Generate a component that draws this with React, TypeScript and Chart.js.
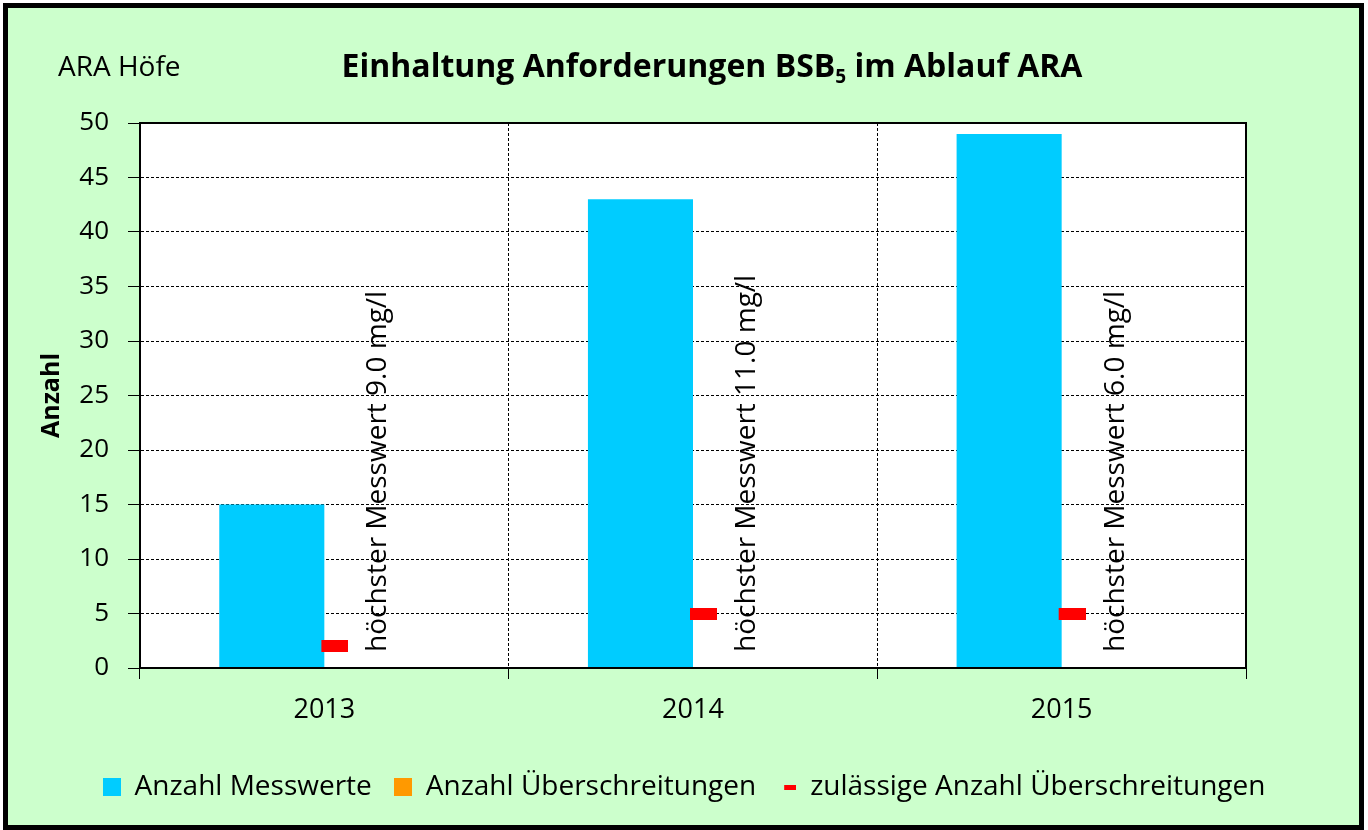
import React, { useEffect, useRef } from "react";
import { Chart, registerables } from "chart.js";

Chart.register(...registerables);

const years = ["2013", "2014", "2015"];
const anzahlMesswerte = [15, 43, 49];
const anzahlUeberschreitungen = [0, 0, 0];
const zulaessigeUeberschreitungen = [2, 5, 5];
const hoechsterMesswert = ["9.0", "11.0", "6.0"];
const seriesLabels = ["Anzahl Messwerte", "Anzahl Überschreitungen", "zulässige Anzahl Überschreitungen"];
const seriesColors = ["#00CCFF", "#FF9900", "#FF0000"];
const yMin = 0;
const yMax = 50;
const yStep = 5;

const FONT = "'Open Sans', sans-serif";

function makeRect(w: number, h: number, color: string, totalW?: number, offX?: number) {
  const c = document.createElement("canvas");
  const tw = totalW ?? w;
  c.width = tw;
  c.height = h;
  const ctx = c.getContext("2d")!;
  ctx.fillStyle = color;
  ctx.fillRect(offX ?? 0, 0, w, h);
  return c;
}

export default function App() {
  const ref = useRef<HTMLCanvasElement>(null);

  useEffect(() => {
    const canvas = ref.current!;
    const dashPoint = makeRect(27, 12, seriesColors[2], 48, 21);
    const legendImgs = [
      makeRect(18, 18, seriesColors[0]),
      makeRect(18, 18, seriesColors[1]),
      makeRect(12, 5, seriesColors[2], 18, 6),
    ];

    const decor = {
      id: "decor",
      beforeDraw(chart: any) {
        const { ctx, chartArea: a } = chart;
        ctx.save();
        ctx.fillStyle = "#FFFFFF";
        ctx.fillRect(a.left, a.top, a.right - a.left, a.bottom - a.top);
        ctx.restore();
      },
      afterDatasetsDraw(chart: any) {
        const { ctx, chartArea: a } = chart;
        const x = chart.scales.x;
        const y = chart.scales.y;
        ctx.save();
        ctx.fillStyle = "#000";
        ctx.font = `28px ${FONT}`;
        hoechsterMesswert.forEach((v, i) => {
          const px = x.getPixelForValue(i) + 54;
          const py = y.getPixelForValue(0) - 16;
          ctx.save();
          ctx.translate(px, py);
          ctx.rotate(-Math.PI / 2);
          ctx.textAlign = "left";
          ctx.textBaseline = "middle";
          ctx.fillText(`höchster Messwert ${v} mg/l`, 0, 0);
          ctx.restore();
        });
        ctx.strokeStyle = "#000";
        ctx.lineWidth = 2;
        ctx.strokeRect(a.left, a.top, a.right - a.left, a.bottom - a.top);
        ctx.restore();
      },
      afterDraw(chart: any) {
        const { ctx } = chart;
        ctx.save();
        ctx.fillStyle = "#000";
        ctx.textBaseline = "middle";
        ctx.font = `28px ${FONT}`;
        ctx.textAlign = "left";
        ctx.fillText("ARA Höfe", 58, 68);
        const p1 = "Einhaltung Anforderungen BSB";
        const sub = "5";
        const p2 = " im Ablauf ARA";
        const big = `bold 32px ${FONT}`;
        const small = `bold 19px ${FONT}`;
        ctx.font = big;
        const w1 = ctx.measureText(p1).width;
        const w3 = ctx.measureText(p2).width;
        ctx.font = small;
        const w2 = ctx.measureText(sub).width;
        const total = w1 + w2 + w3;
        let cx = 712 - total / 2;
        const cy = 68;
        ctx.font = big;
        ctx.fillText(p1, cx, cy);
        cx += w1;
        ctx.font = small;
        ctx.fillText(sub, cx, cy + 10);
        cx += w2;
        ctx.font = big;
        ctx.fillText(p2, cx, cy);
        ctx.restore();
      },
    };

    const chart = new Chart(canvas, {
      type: "bar",
      data: {
        labels: years,
        datasets: [
          {
            type: "bar",
            label: seriesLabels[0],
            data: anzahlMesswerte,
            backgroundColor: seriesColors[0],
            borderWidth: 0,
            categoryPercentage: 0.57,
            barPercentage: 1.0,
            order: 2,
          },
          {
            type: "bar",
            label: seriesLabels[1],
            data: anzahlUeberschreitungen,
            backgroundColor: seriesColors[1],
            borderWidth: 0,
            categoryPercentage: 0.57,
            barPercentage: 1.0,
            order: 2,
          },
          {
            type: "line",
            label: seriesLabels[2],
            data: zulaessigeUeberschreitungen,
            showLine: false,
            pointStyle: dashPoint as any,
            pointRadius: 12,
            borderColor: seriesColors[2],
            backgroundColor: seriesColors[2],
            order: 0,
          } as any,
        ],
      },
      options: {
        responsive: false,
        animation: false,
        layout: { padding: { left: 4, right: 4, top: 123, bottom: 19 } },
        plugins: {
          title: { display: false },
          tooltip: { enabled: false },
          legend: {
            display: true,
            position: "bottom",
            labels: {
              usePointStyle: true,
              boxWidth: 18,
              boxHeight: 18,
              padding: 22,
              color: "#000",
              font: { family: FONT, size: 28 },
              generateLabels: (ch: any) =>
                ch.data.datasets.map((ds: any, i: number) => ({
                  text: ds.label,
                  pointStyle: legendImgs[i],
                  fillStyle: seriesColors[i],
                  strokeStyle: "transparent",
                  lineWidth: 0,
                  hidden: false,
                  datasetIndex: i,
                  fontColor: "#000",
                })),
            },
          },
        },
        scales: {
          x: {
            offset: true,
            grid: {
              offset: true,
              color: "#000",
              lineWidth: 1,
              tickLength: 11,
              tickColor: "#000",
              tickBorderDash: [],
            },
            border: { display: true, color: "#000", width: 2, dash: [3, 2] },
            ticks: { color: "#000", font: { family: FONT, size: 27 }, padding: 15 },
            afterFit: (s: any) => {
              s.height = 83;
            },
          },
          y: {
            min: yMin,
            max: yMax,
            ticks: { stepSize: yStep, color: "#000", font: { family: FONT, size: 26 }, padding: 19 },
            grid: {
              color: "#000",
              lineWidth: 1,
              tickLength: 12,
              tickColor: "#000",
              tickBorderDash: [],
            },
            border: { display: true, color: "#000", width: 2, dash: [3, 2] },
            title: {
              display: true,
              text: "Anzahl",
              color: "#000",
              font: { family: FONT, size: 25, weight: "bold" },
              padding: { top: 33, bottom: 0 },
            },
            afterFit: (s: any) => {
              s.width = 136;
            },
          },
          yR: {
            position: "right",
            display: true,
            grid: { display: false, drawTicks: false },
            border: { display: false },
            ticks: { display: false },
            afterFit: (s: any) => {
              s.width = 118;
            },
          },
        },
      } as any,
      plugins: [decor],
    });

    return () => chart.destroy();
  }, []);

  return (
    <div style={{ position: "fixed", left: 0, top: 0, width: 1368, height: 830, background: "#FFFFFF" }}>
      <div
        style={{
          position: "absolute",
          left: 3,
          top: 3,
          width: 1361,
          height: 827,
          boxSizing: "border-box",
          border: "5px solid #000",
          background: "#CCFFCC",
        }}
      />
      <canvas
        ref={ref}
        width={1368}
        height={830}
        style={{ position: "absolute", left: 0, top: 0, width: 1368, height: 830 }}
      />
    </div>
  );
}
